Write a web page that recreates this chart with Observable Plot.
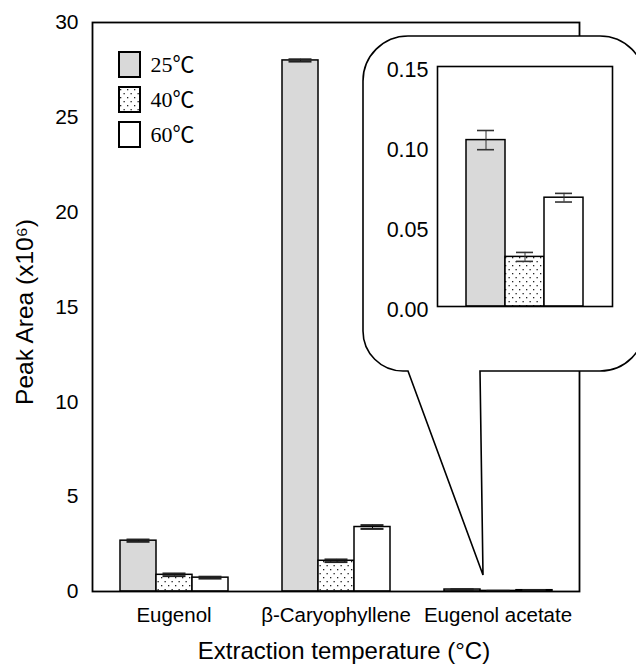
<!DOCTYPE html>
<html>
<head>
<meta charset="utf-8">
<script src="https://cdn.jsdelivr.net/npm/d3@7"></script>
<script src="https://cdn.jsdelivr.net/npm/@observablehq/plot@0.6"></script>
<style>
  html, body { margin: 0; padding: 0; background: white; }
  #wrap { position: relative; width: 636px; height: 668px; overflow: hidden; background: white; }
  #wrap > svg, #wrap > figure, #wrap > div { position: absolute; left: 0; top: 0; margin: 0; }
</style>
</head>
<body>
<svg width="0" height="0" style="position:absolute">
  <defs>
    <pattern id="dots" width="7" height="8" patternUnits="userSpaceOnUse">
      <rect width="7" height="8" fill="white"/>
      <rect x="1" y="1" width="1.3" height="1.3" fill="#222"/>
      <rect x="4.5" y="5" width="1.3" height="1.3" fill="#222"/>
    </pattern>
  </defs>
</svg>
<div id="wrap"></div>
<script>
// ---- data ----
const compounds = ["Eugenol", "β-Caryophyllene", "Eugenol acetate"];
const temps = ["25℃", "40℃", "60℃"];
const val25 = [2.68, 28.0, 0.104];
const val40 = [0.88, 1.62, 0.031];
const val60 = [0.73, 3.40, 0.068];
const err25 = [0.06, 0.06, 0.006];
const err40 = [0.07, 0.07, 0.0028];
const err60 = [0.05, 0.10, 0.0027];
const yTicks = [0, 5, 10, 15, 20, 25, 30];
const insetTicks = [0, 0.05, 0.10, 0.15];
const insetCompound = "Eugenol acetate";
const fills = ["#d9d9d9", "url(#dots)", "#ffffff"];
const yTitle = "Peak Area (x10⁶)";
const xTitle = "Extraction temperature (°C)";

const vals = [val25, val40, val60];
const errs = [err25, err40, err60];
const table = [];
compounds.forEach((c, i) => temps.forEach((t, j) => {
  table.push({compound: c, temp: t, value: vals[j][i], lo: vals[j][i] - errs[j][i], hi: vals[j][i] + errs[j][i]});
}));
const insetData = table.filter(d => d.compound === insetCompound);

const wrap = document.getElementById("wrap");
const sans = "'Liberation Sans', Arial, Helvetica, sans-serif";
const M = {marginTop: 22, marginBottom: 77, marginLeft: 92, marginRight: 57};

// ---- main chart (bars) ----
const main = Plot.plot({
  width: 636, height: 668, ...M,
  style: {fontFamily: sans, fontSize: "20px", background: "white", color: "black", overflow: "visible"},
  fx: {domain: compounds, paddingInner: 0.33, paddingOuter: 0.165, label: null},
  x: {domain: temps, padding: 0, axis: null},
  y: {domain: [0, 30], axis: null},
  color: {domain: temps, range: fills},
  marks: [
    Plot.axisFx({anchor: "bottom", tickSize: 0, tickPadding: 16, label: null, fontSize: 20.5}),
    Plot.barY(table, {fx: "compound", x: "temp", y: "value", fill: "temp", stroke: "black", strokeWidth: 1.5}),
    Plot.ruleX(table, {fx: "compound", x: "temp", y1: "lo", y2: "hi", stroke: "black", strokeWidth: 1}),
    Plot.tickY(table, {fx: "compound", x: "temp", y: "hi", inset: 6.5, stroke: "#222", strokeWidth: 2}),
    Plot.tickY(table, {fx: "compound", x: "temp", y: "lo", inset: 6.5, stroke: "#222", strokeWidth: 2})
  ]
});
wrap.appendChild(main);

// ---- frame, y axis and axis titles ----
const deco = Plot.plot({
  width: 636, height: 668, ...M,
  style: {fontFamily: sans, fontSize: "21px", background: "transparent", color: "black", overflow: "visible"},
  x: {axis: null},
  y: {domain: [0, 30], label: null},
  marks: [
    Plot.axisY({ticks: yTicks, tickSize: 0, tickPadding: 14, label: null, fontSize: 21}),
    Plot.frame({stroke: "black", strokeWidth: 1.8}),
    Plot.text([xTitle], {frameAnchor: "bottom", textAnchor: "middle", lineAnchor: "middle", dx: 8, dy: 60, fontSize: 24, fill: "black"}),
    Plot.text([yTitle], {frameAnchor: "left", textAnchor: "middle", lineAnchor: "middle", rotate: -90, dx: -67, dy: 5, fontSize: 24.5, fill: "black"})
  ]
});
wrap.appendChild(deco);

// ---- callout balloon ----
const ns = "http://www.w3.org/2000/svg";
const callout = document.createElementNS(ns, "svg");
callout.setAttribute("width", 636);
callout.setAttribute("height", 668);
const p = document.createElementNS(ns, "path");
p.setAttribute("d",
  "M408,371 L483,575 L480,371 L600,371 A45,45 0 0 0 645,326 L645,81 A45,45 0 0 0 600,36 L408,36 A45,45 0 0 0 363,81 L363,331 A40,40 0 0 0 403,371 Z");
p.setAttribute("fill", "white");
p.setAttribute("stroke", "black");
p.setAttribute("stroke-width", "1.6");
callout.appendChild(p);
wrap.appendChild(callout);

// ---- inset chart ----
const inset = Plot.plot({
  width: 636, height: 668,
  marginTop: 66, marginBottom: 362, marginLeft: 437, marginRight: 24,
  style: {fontFamily: sans, fontSize: "21px", background: "transparent", color: "black", overflow: "visible"},
  x: {domain: temps, paddingInner: 0, paddingOuter: 0.74, axis: null},
  y: {domain: [0, 0.15], label: null},
  color: {domain: temps, range: fills},
  marks: [
    Plot.axisY({ticks: insetTicks, tickFormat: d3.format(".2f"), tickSize: 0, tickPadding: 9, dy: 4, label: null, fontSize: 21.5}),
    Plot.barY(insetData, {x: "temp", y: "value", fill: "temp", stroke: "black", strokeWidth: 1.5}),
    Plot.ruleX(insetData, {x: "temp", y1: "lo", y2: "hi", stroke: "#333", strokeWidth: 1}),
    Plot.tickY(insetData, {x: "temp", y: "hi", inset: 11, stroke: "#333", strokeWidth: 1.6}),
    Plot.tickY(insetData, {x: "temp", y: "lo", inset: 11, stroke: "#333", strokeWidth: 1.6}),
    Plot.frame({stroke: "black", strokeWidth: 1.6})
  ]
});
wrap.appendChild(inset);

// ---- legend ----
const legend = Plot.plot({
  width: 636, height: 668,
  marginTop: 45.7, marginBottom: 668 - 152.2, marginLeft: 119, marginRight: 636 - 140,
  style: {fontFamily: "'Liberation Serif', 'Times New Roman', 'Noto Sans CJK KR', serif", fontSize: "22px", background: "transparent", color: "black", overflow: "visible"},
  x: {type: "band", domain: ["swatch"], padding: 0, axis: null},
  y: {domain: temps, paddingInner: 0.296, paddingOuter: 0.148, axis: null},
  color: {domain: temps, range: fills},
  marks: [
    Plot.cell(temps, {x: () => "swatch", y: d => d, fill: d => d, stroke: "black", strokeWidth: 2}),
    Plot.text(temps, {x: () => "swatch", y: d => d, text: d => d, textAnchor: "start", dx: 20.5, fontSize: 22, fill: "black"})
  ]
});
wrap.appendChild(legend);
</script>
</body>
</html>
